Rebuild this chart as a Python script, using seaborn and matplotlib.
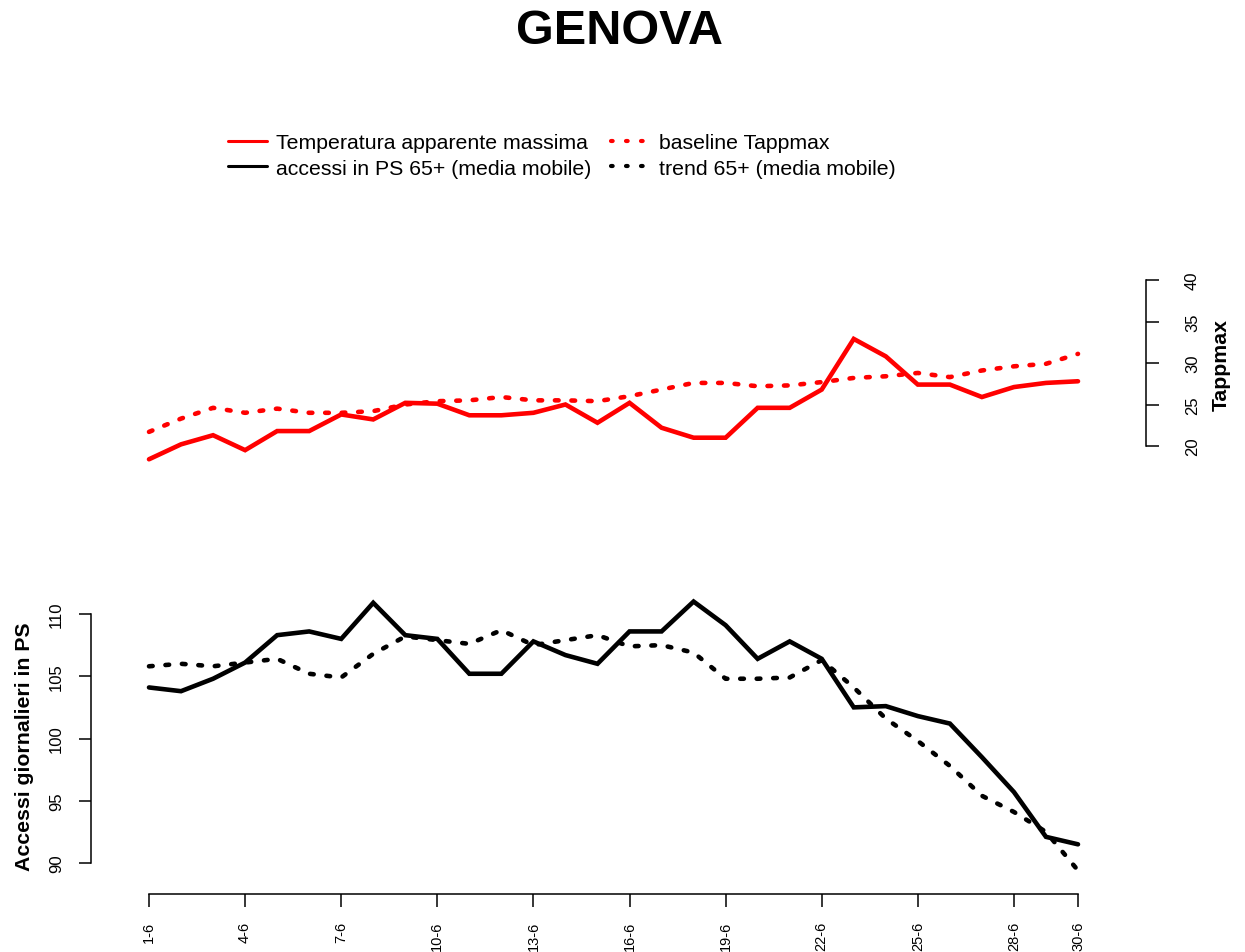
import matplotlib
matplotlib.use("Agg")
import matplotlib.pyplot as plt
from matplotlib.lines import Line2D
import seaborn as sns
import numpy as np
import pandas as pd

# Daily series, June (day index 1..30)
giorni = [f"{d}-6" for d in range(1, 31)]
tapp_max = [18.4, 20.2, 21.3, 19.5, 21.8, 21.8, 23.8, 23.2, 25.2, 25.1,
            23.7, 23.7, 24.0, 25.0, 22.8, 25.2, 22.2, 21.0, 21.0, 24.6,
            24.6, 26.8, 32.9, 30.8, 27.4, 27.4, 25.9, 27.1, 27.6, 27.8]
baseline_tapp = [21.7, 23.3, 24.6, 24.0, 24.5, 24.0, 24.0, 24.2, 25.0, 25.4,
                 25.5, 25.9, 25.5, 25.5, 25.4, 26.0, 26.8, 27.6, 27.6, 27.2,
                 27.3, 27.7, 28.2, 28.4, 28.8, 28.3, 29.1, 29.6, 29.9, 31.1]
accessi_65 = [104.1, 103.8, 104.8, 106.1, 108.3, 108.6, 108.0, 110.9, 108.3, 108.0,
              105.2, 105.2, 107.8, 106.7, 106.0, 108.6, 108.6, 111.0, 109.1, 106.4,
              107.8, 106.4, 102.5, 102.6, 101.8, 101.2, 98.5, 95.7, 92.1, 91.5]
trend_65 = [105.8, 106.0, 105.8, 106.1, 106.4, 105.2, 104.9, 106.8, 108.2, 107.9,
            107.6, 108.7, 107.5, 107.9, 108.3, 107.4, 107.5, 106.9, 104.8, 104.8,
            104.9, 106.3, 104.1, 101.6, 99.8, 97.8, 95.4, 94.1, 92.5, 89.4]
tick_giorni = [1, 4, 7, 10, 13, 16, 19, 22, 25, 28, 30]
left_ticks = [90, 95, 100, 105, 110]
right_ticks = [20, 25, 30, 35, 40]

legend_labels = ["Temperatura apparente massima", "accessi in PS 65+ (media mobile)",
                 "baseline Tappmax", "trend 65+ (media mobile)"]

df = pd.DataFrame({
    "giorno": np.arange(1, 31),
    "tapp_max": tapp_max,
    "baseline": baseline_tapp,
    "accessi": accessi_65,
    "trend": trend_65,
})

sns.set_theme(style="white")
plt.rcParams["font.family"] = ["Liberation Sans", "DejaVu Sans"]
plt.rcParams["text.color"] = "black"
plt.rcParams["axes.labelcolor"] = "black"
plt.rcParams["xtick.color"] = "black"
plt.rcParams["ytick.color"] = "black"

W, H = 1245, 953
fig = plt.figure(figsize=(W / 100, H / 100), dpi=100)

# plot box in pixels (left, top, right, bottom)
L, T, R, B = 91, 200, 1146, 895
ax = fig.add_axes([L / W, 1 - B / H, (R - L) / W, (B - T) / H])
ax2 = ax.twinx()

dot = (0, (0.8, 2.8))
lw = 3.3

sns.lineplot(data=df, x="giorno", y="accessi", ax=ax, color="black",
             linewidth=lw, solid_capstyle="round", solid_joinstyle="miter")
sns.lineplot(data=df, x="giorno", y="trend", ax=ax, color="black",
             linewidth=lw, linestyle=dot, dash_capstyle="round")
sns.lineplot(data=df, x="giorno", y="tapp_max", ax=ax2, color="#ff0000",
             linewidth=lw, solid_capstyle="round", solid_joinstyle="miter")
sns.lineplot(data=df, x="giorno", y="baseline", ax=ax2, color="#ff0000",
             linewidth=lw, linestyle=dot, dash_capstyle="round")

# x scale: day 1 at x=149px, day 30 at x=1078px
px_day = (1078 - 149) / 29
ax.set_xlim(1 - (149 - L) / px_day, 30 + (R - 1078) / px_day)

# left scale: 90 at y=864px, 110 at y=615px
px_l = (864 - 615) / 20
ax.set_ylim(90 - (B - 864) / px_l, 110 + (615 - T) / px_l)
# right scale: 20 at y=447px, 40 at y=281px
px_r = (447 - 281) / 20
ax2.set_ylim(20 - (B - 447) / px_r, 40 + (281 - T) / px_r)

for a in (ax, ax2):
    for s in a.spines.values():
        s.set_visible(False)
    a.set_xlabel("")
    a.set_ylabel("")
    a.grid(False)

ax.spines["left"].set_visible(True)
ax.spines["left"].set_bounds(90, 110)
ax.spines["bottom"].set_visible(True)
ax.spines["bottom"].set_bounds(1, 30)
ax2.spines["right"].set_visible(True)
ax2.spines["right"].set_bounds(20, 40)
for s in (ax.spines["left"], ax.spines["bottom"], ax2.spines["right"]):
    s.set_color("black")
    s.set_linewidth(1.1)

ax.set_yticks(left_ticks)
ax.set_yticklabels([str(v) for v in left_ticks])
ax2.set_yticks(right_ticks)
ax2.set_yticklabels([str(v) for v in right_ticks])
ax.set_xticks(tick_giorni)
ax.set_xticklabels([giorni[d - 1] for d in tick_giorni])

tick_len = 9.0
ax.tick_params(axis="y", left=True, length=tick_len, width=1.1, color="black",
               labelsize=12, pad=10.5, labelcolor="black")
ax.tick_params(axis="x", bottom=True, length=tick_len, width=1.1, color="black",
               labelsize=10.5, pad=10.5, labelcolor="black")
ax2.tick_params(axis="y", right=True, length=tick_len, width=1.1, color="black",
                labelsize=12, pad=19, labelcolor="black")
plt.setp(ax.get_yticklabels(), rotation=90, va="center")
plt.setp(ax2.get_yticklabels(), rotation=90, va="center")
plt.setp(ax.get_xticklabels(), rotation=90, ha="center", va="top")

# axis titles
fig.text(25 / W, 1 - 747 / H, "Accessi giornalieri in PS", rotation=90,
         ha="center", va="center", fontsize=15.3, fontweight="bold")
fig.text(1221 / W, 1 - 365 / H, "Tappmax", rotation=90,
         ha="center", va="center", fontsize=15.3, fontweight="bold")

# title
fig.text(620 / W, 1 - 44 / H, "GENOVA", ha="center", va="baseline",
         fontsize=35, fontweight="bold")

# legend
handles = [
    Line2D([], [], color="#ff0000", linewidth=2.2),
    Line2D([], [], color="black", linewidth=2.2),
    Line2D([], [], color="#ff0000", linewidth=3.0, linestyle=(0, (0.4, 3.2)),
           dash_capstyle="round"),
    Line2D([], [], color="black", linewidth=3.0, linestyle=(0, (0.4, 3.2)),
           dash_capstyle="round"),
]
fig.legend(handles, legend_labels, ncol=2, frameon=False, fontsize=15.3,
           loc="upper left", bbox_to_anchor=(228 / W, 1 - 134 / H),
           borderaxespad=0, borderpad=0, handlelength=1.84, handletextpad=0.42,
           labelspacing=0.32, columnspacing=0.92)

fig.savefig("out.png", dpi=100)
